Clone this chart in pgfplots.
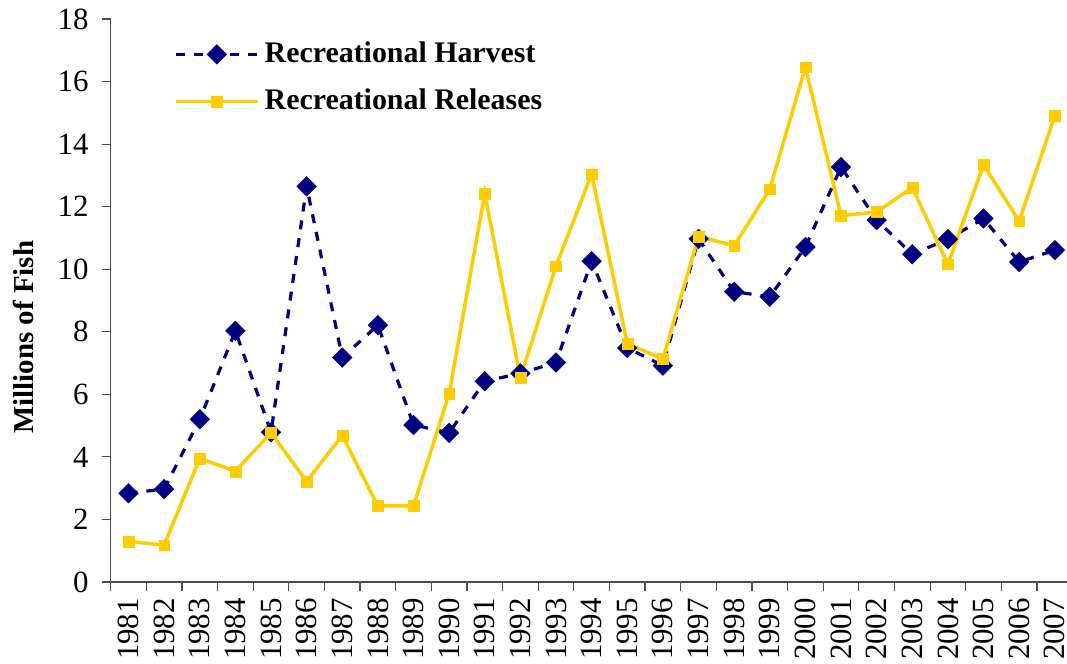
\documentclass[border=0pt]{standalone}
\usepackage{fontspec}
\setmainfont{Liberation Serif}
\usepackage{pgfplots}
\pgfplotsset{compat=1.18}
\definecolor{navyh}{RGB}{0,0,128}
\definecolor{goldr}{RGB}{255,204,0}
\pgfplotstableread{
x harvest releases
0 2.84 1.30
1 2.97 1.18
2 5.20 3.95
3 8.03 3.54
4 4.79 4.77
5 12.65 3.22
6 7.18 4.68
7 8.21 2.43
8 5.02 2.43
9 4.77 6.02
10 6.42 12.42
11 6.67 6.54
12 7.02 10.10
13 10.26 13.04
14 7.48 7.62
15 6.92 7.13
16 10.97 11.05
17 9.28 10.75
18 9.12 12.56
19 10.71 16.46
20 13.27 11.71
21 11.57 11.83
22 10.48 12.61
23 10.96 10.16
24 11.62 13.34
25 10.23 11.54
26 10.61 14.90
}\datatable
\begin{document}
\fontsize{29}{34}\selectfont
\begin{tikzpicture}
\begin{axis}[
  at={(0,0)}, anchor=south west,
  scale only axis,
  width=961.9bp, height=563bp,
  xmin=-0.5, xmax=26.5, ymin=0, ymax=18,
  axis lines=left,
  axis line style={-, draw=black!70, line width=1.2bp},
  xtick={-0.5,0.5,...,26.5},
  xticklabels={},
  extra x ticks={0,1,...,26},
  extra x tick labels={1981,1982,1983,1984,1985,1986,1987,1988,1989,1990,1991,1992,1993,1994,1995,1996,1997,1998,1999,2000,2001,2002,2003,2004,2005,2006,2007},
  extra x tick style={major tick length=0pt},
  ytick={0,2,...,18},
  tick align=outside,
  major tick length=9bp,
  tick style={draw=black!70, line width=1.2bp},
  xticklabel style={yshift=-16bp, rotate=90, anchor=east, inner sep=0pt, font=\fontsize{31}{36}\selectfont},
  yticklabel style={inner sep=0pt, xshift=-13bp, font=\fontsize{31}{36}\selectfont},
  /pgf/number format/assume math mode=true,
  ylabel={\textbf{Millions of Fish}},
  ylabel style={at={(axis description cs:-0.0912,0.435)}, anchor=center, font=\fontsize{29}{34}\selectfont},
  legend style={draw=none, fill=none, at={(axis description cs:0.0658,0.9597)}, anchor=north west, inner sep=0pt, row sep=22bp, font=\bfseries\fontsize{30}{35}\selectfont, nodes={inner sep=0pt}, /tikz/every odd column/.append style={column sep=5bp}},
  legend cell align=left,
  legend image code/.code={\draw[mark repeat=2,mark phase=2,#1] plot coordinates {(0bp,0bp) (41bp,0bp) (82bp,0bp)};},
  clip=false,
]
\addplot[navyh, line width=3.2bp, dash pattern=on 9bp off 9bp, mark=square*, mark size=7bp, mark options={solid, rotate=45, fill=navyh, draw=navyh, line width=0.3bp}] table[x=x, y=harvest] {\datatable};
\addlegendentry{Recreational Harvest}
\addplot[goldr, line width=3.5bp, mark=square*, mark size=5.4bp, mark options={solid, fill=goldr, draw=goldr, line width=0.3bp}] table[x=x, y=releases] {\datatable};
\addlegendentry{Recreational Releases}
\end{axis}
\pgfresetboundingbox
\useasboundingbox (-110.7bp,-82bp) rectangle (956.3bp,582bp);
\end{tikzpicture}
\end{document}
